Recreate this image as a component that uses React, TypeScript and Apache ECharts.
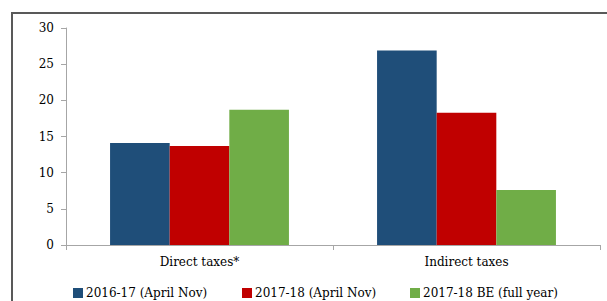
import React, { useEffect, useRef } from "react";
import * as echarts from "echarts";

const categories = ["Direct taxes*", "Indirect taxes"];
const seriesNames = ["2016-17 (April Nov)", "2017-18 (April Nov)", "2017-18 BE (full year)"];
const s1 = [14.1, 26.9];
const s2 = [13.7, 18.3];
const s3 = [18.7, 7.6];
const colors = ["#1F4E79", "#C00000", "#70AD47"];
const yTicks = { min: 0, max: 30, interval: 5 };

const FONT = "DejaVu Serif";
const legendLefts = [73, 242, 410];

export default function App() {
  const ref = useRef<HTMLDivElement>(null);
  useEffect(() => {
    if (!ref.current) return;
    const chart = echarts.init(ref.current, undefined, { renderer: "svg" });
    chart.setOption({
      animation: false,
      textStyle: { fontFamily: FONT },
      graphic: [
        {
          type: "rect",
          shape: { x: 12, y: 13, width: 620, height: 320 },
          style: { fill: "none", stroke: "#595959", lineWidth: 2 },
          silent: true,
        },
      ],
      grid: { left: 66, right: 7, top: 28, bottom: 56 },
      legend: seriesNames.map((n, i) => ({
        left: legendLefts[i],
        top: 287,
        padding: 0,
        itemWidth: 10,
        itemHeight: 10,
        itemGap: 0,
        icon: "rect",
        textStyle: { fontFamily: FONT, fontSize: 12, color: "#000", padding: [0, 0, 0, -2] },
        data: [n],
      })),
      xAxis: {
        type: "category",
        data: categories,
        axisLine: { lineStyle: { color: "#A6A6A6" } },
        axisTick: { show: true, length: 5, lineStyle: { color: "#A6A6A6" } },
        axisLabel: { color: "#000", fontSize: 12, fontFamily: FONT, margin: 11 },
      },
      yAxis: {
        type: "value",
        min: yTicks.min,
        max: yTicks.max,
        interval: yTicks.interval,
        splitLine: { show: false },
        axisLine: { show: true, lineStyle: { color: "#A6A6A6" } },
        axisTick: { show: true, length: 5, lineStyle: { color: "#A6A6A6" } },
        axisLabel: { color: "#000", fontSize: 12, fontFamily: FONT, margin: 12 },
      },
      series: [s1, s2, s3].map((d, i) => ({
        name: seriesNames[i],
        type: "bar",
        data: d,
        barGap: "0%",
        barCategoryGap: "33%",
        itemStyle: { color: colors[i] },
      })),
    });
    return () => chart.dispose();
  }, []);
  return <div ref={ref} style={{ width: 607, height: 301, position: "absolute", left: 0, top: 0 }} />;
}
